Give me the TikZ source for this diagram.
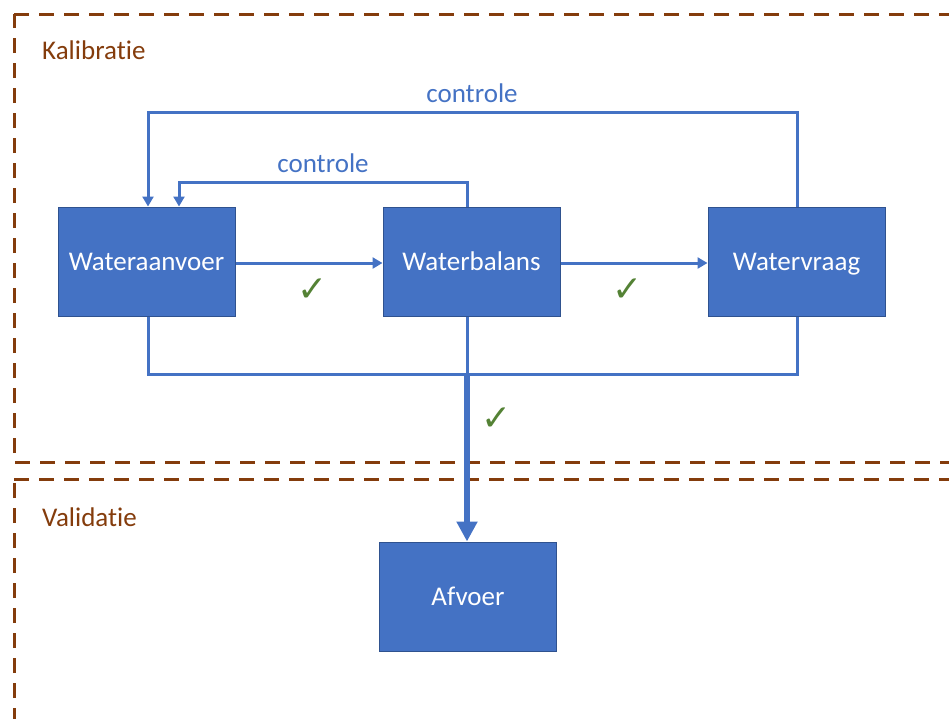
\documentclass[tikz,border=0pt]{standalone}
\usepackage{fontspec}
\setmainfont[Ligatures=NoCommon]{Carlito}
\newfontfamily\symfont{DejaVu Sans}
\usetikzlibrary{arrows.meta}
\definecolor{boxblue}{HTML}{4472C4}
\definecolor{boxedge}{HTML}{2F528F}
\definecolor{brownline}{HTML}{843C0C}
\definecolor{checkgreen}{HTML}{548235}
\tikzset{
  procbox/.style={draw=boxedge, line width=1pt, fill=boxblue, minimum width=177pt, minimum height=109pt, inner sep=0pt, text=white, font=\fontsize{27}{32}\selectfont, text height=18pt, text depth=0pt},
  flow/.style={draw=boxblue, line width=3pt},
  flowarrow/.style={flow, -{Triangle[length=10pt,width=11pt]}},
  bigarrow/.style={draw=boxblue, line width=5.5pt, -{Triangle[length=20pt,width=20pt]}},
  zone/.style={draw=brownline, line width=3pt, dash pattern=on 15pt off 10pt},
  zonelabel/.style={text=brownline, font=\fontsize{27}{32}\selectfont, anchor=west, inner sep=0pt},
  ctrllabel/.style={text=boxblue, font=\fontsize{27}{32}\selectfont, inner sep=0pt},
  check/.style={text=checkgreen, font=\symfont\fontsize{36}{42}\selectfont, inner sep=0pt}
}
\begin{document}
\begin{tikzpicture}[x=1pt,y=-1pt]
\useasboundingbox (0,0) rectangle (949,718);
\begin{scope}
\clip (0,0) rectangle (949,718);
\draw[zone] (14,14) -- (960,14) -- (960,462.5) -- (14,462.5) -- cycle;
\draw[zone] (14,479) -- (960,479) -- (960,730) -- (14,730) -- cycle;
\end{scope}
\node[zonelabel] (kal) at (42,50) {Kalibratie};
\node[zonelabel] (val) at (42,517) {Validatie};

\node[procbox] (aan) at (146.5,261.5) {Wateraanvoer};
\node[procbox] (bal) at (471.5,261.5) {Waterbalans};
\node[procbox] (vra) at (796.5,261.5) {Watervraag};
\node[procbox] (afv) at (468,596.5) {Afvoer};

% horizontal flows
\draw[flowarrow] (aan.east |- 0,263) -- (bal.west |- 0,263);
\draw[flowarrow] (bal.east |- 0,263) -- (vra.west |- 0,263);

% controle loops
\coordinate (c1a) at (797,112);
\coordinate (c1b) at (148,112);
\draw[flowarrow] (vra.north -| c1a) -- (c1a) -- (c1b) -- (aan.north -| c1b);
\coordinate (c2a) at (467,182);
\coordinate (c2b) at (179,182);
\draw[flowarrow] (bal.north -| c2a) -- (c2a) -- (c2b) -- (aan.north -| c2b);
\node[ctrllabel] (lc1) at (472,93) {controle};
\node[ctrllabel] (lc2) at (323,163) {controle};

% bottom collector
\coordinate (b1) at (148,374);
\coordinate (b2) at (797,374);
\coordinate (b3) at (467,374);
\draw[flow] (aan.south -| b1) -- (b1) -- (b2) -- (vra.south -| b2);
\draw[flow] (bal.south -| b3) -- (b3);
\draw[bigarrow] (b3) -- (afv.north -| b3);

% checks
\node[check] (k1) at (313,290) {✓};
\node[check] (k2) at (628,290) {✓};
\node[check] (k3) at (497,419) {✓};
\end{tikzpicture}
\end{document}
